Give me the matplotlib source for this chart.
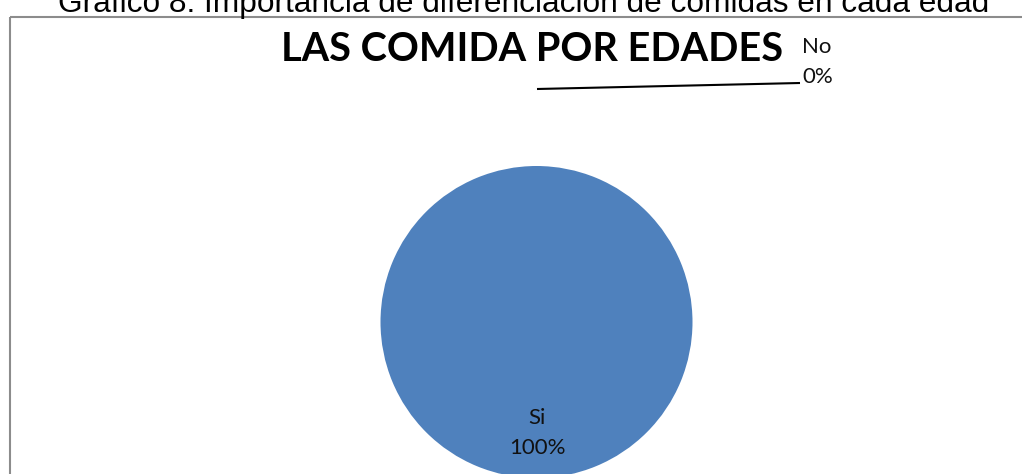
import matplotlib
matplotlib.use("Agg")
import matplotlib.pyplot as plt
from matplotlib.patches import Rectangle

categories = ["Si", "No"]
values = [100, 0]
colors = ["#4F81BD", "#C0504D"]
title = "LAS COMIDA POR EDADES"
caption = "Gráfico 8. Importancia de diferenciación de comidas en cada edad"

W, H = 1022, 474
fig = plt.figure(figsize=(W / 100, H / 100), dpi=100)
ax = fig.add_axes([0, 0, 1, 1])
ax.axis("off")

# chart border
ax.add_patch(Rectangle((10, 16.5), 1030, 500, fill=False, edgecolor="#8c8c8c", lw=1.5))

total = sum(values)
ax.pie(values, colors=colors, center=(536.5, 322), radius=156, startangle=90,
       counterclock=False, wedgeprops=dict(linewidth=0))
ax.set_xlim(0, W)
ax.set_ylim(H, 0)
ax.set_aspect("auto")
ax.axis("off")

pcts = [v / total * 100 for v in values]
ax.text(537, 433, f"{categories[0]}\n{pcts[0]:.0f}%", ha="center", va="center",
        fontsize=16, family="Lato", linespacing=1.62, color="#111111")
ax.text(802, 62, f"{categories[1]}\n{pcts[1]:.0f}%", ha="left", va="center",
        fontsize=16, family="Lato", linespacing=1.62, color="#111111")
ax.plot([537, 800], [89, 83], color="black", lw=1.5, solid_capstyle="butt")

ax.text(532.5, 49, title, ha="center", va="center", fontsize=28.5, fontweight="bold",
        family="Lato", color="black")
ax.text(524, 12, caption, ha="center", va="baseline", fontsize=22.8,
        family="Liberation Sans", color="black")

fig.savefig("out.png", dpi=100)
